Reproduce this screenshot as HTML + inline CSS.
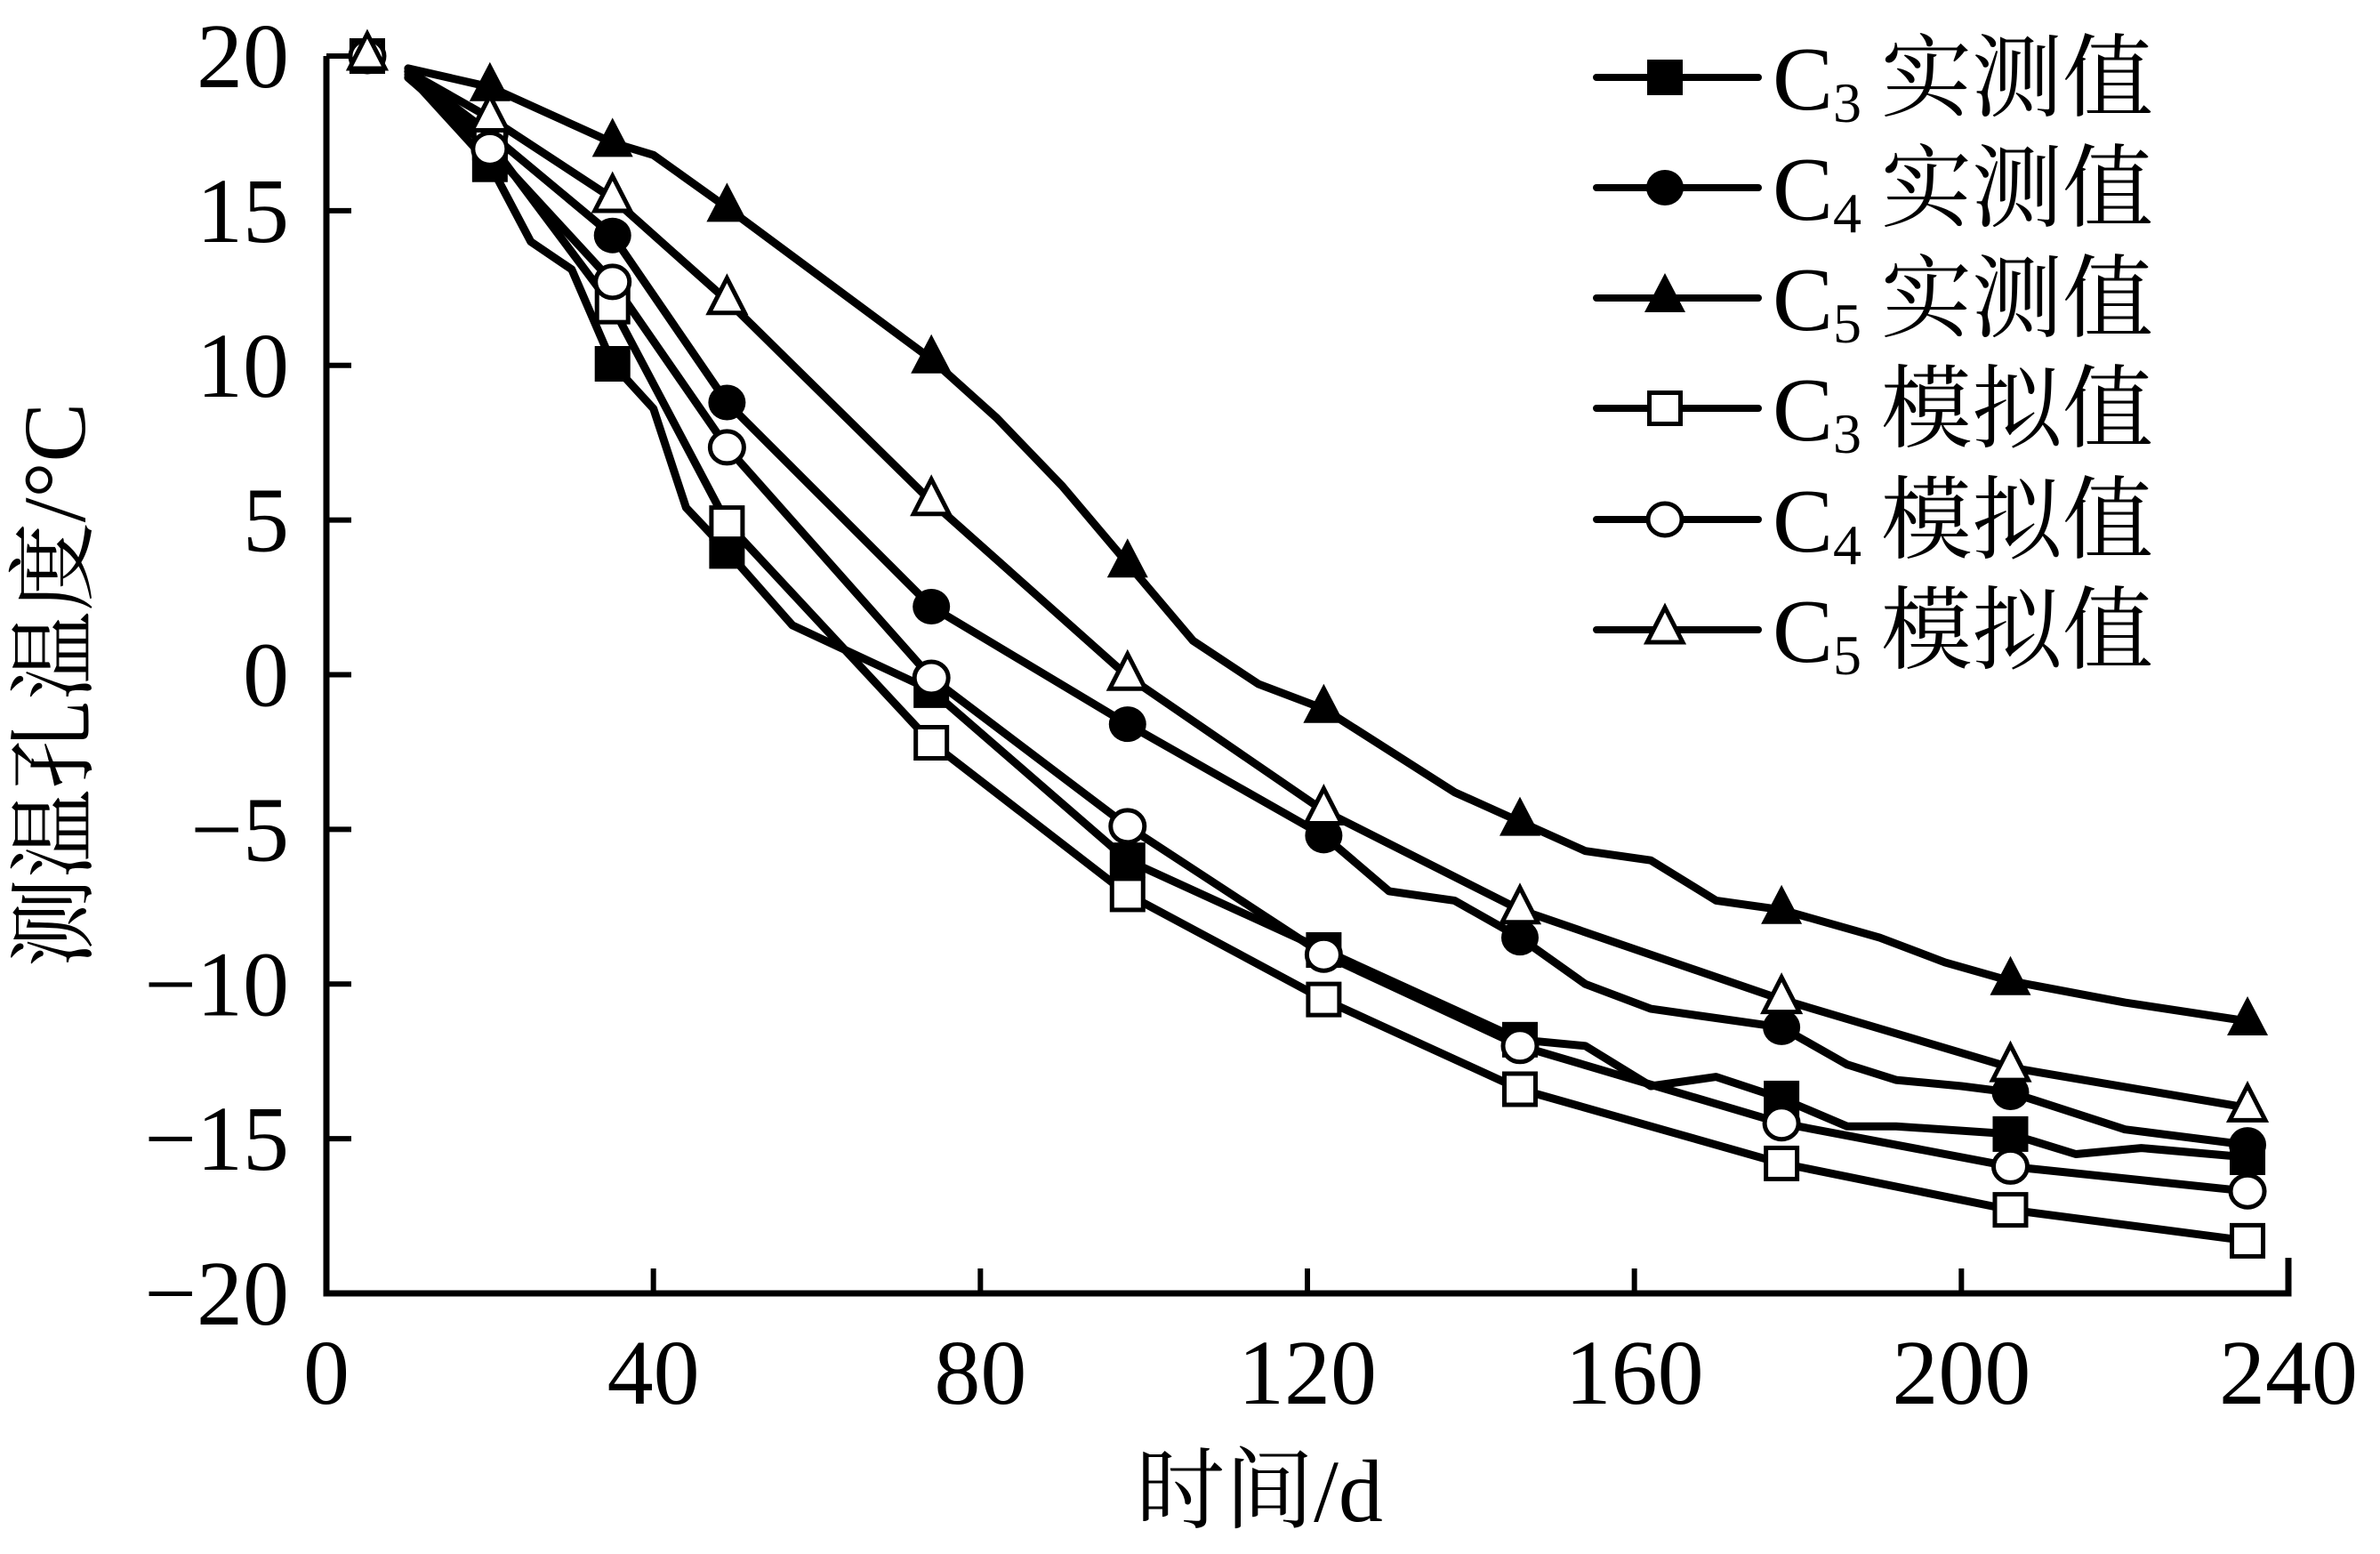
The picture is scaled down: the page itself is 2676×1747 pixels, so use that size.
<!DOCTYPE html>
<html><head><meta charset="utf-8"><style>
html,body{margin:0;padding:0;background:#fff;}
svg{display:block;}
text{font-family:"Liberation Serif","Noto Serif CJK SC",serif;fill:#000;}
</style></head><body>
<svg id="chart" width="2676" height="1747" viewBox="0 0 2676 1747" xmlns="http://www.w3.org/2000/svg">
<g id="axes"></g>
<g id="series"></g>
<g id="legend"></g>
<text x="1416" y="1710" font-size="100" text-anchor="middle">时间/d</text>
<text transform="translate(95,770) rotate(-90)" font-size="100" text-anchor="middle">测温孔温度/°C</text>
</svg>
<script>
const xTicks = [0,40,80,120,160,200,240];
const yTicks = [20,15,10,5,0,-5,-10,-15,-20];
const yTickLabels = ["20","15","10","5","0","\u22125","\u221210","\u221215","\u221220"];
const markerDays = [5,20,35,49,74,98,122,146,178,206,235];
const c3Meas = [20,16.5,10.05,4.0,-0.5,-6.0,-8.9,-11.8,-13.7,-14.85,-15.6];
const c4Meas = [20,17.5,14.2,8.8,2.2,-1.6,-5.2,-8.5,-11.4,-13.5,-15.2];
const c5Meas = [20,19.0,17.2,15.1,10.2,3.6,-1.1,-4.75,-7.6,-9.9,-11.2];
const c3Sim = [20,17.2,11.9,4.9,-2.2,-7.1,-10.5,-13.4,-15.8,-17.3,-18.3];
const c4Sim = [20,17.0,12.7,7.35,-0.1,-4.9,-9.05,-12.0,-14.5,-15.9,-16.7];
const c5Sim = [20,18.0,15.4,12.1,5.6,-0.05,-4.4,-7.6,-10.5,-12.7,-14.0];
const c3MeasLineDays = [10,20,25,30,35,40,44,49,57,74,98,122,146,154,162,170,178,186,192,206,214,222,235];
const c3MeasLineVals = [19.4,16.5,14.0,13.1,10.05,8.6,5.4,4.0,1.6,-0.5,-6.0,-8.9,-11.8,-12.0,-13.3,-13.0,-13.7,-14.6,-14.6,-14.85,-15.5,-15.3,-15.6];
const c4MeasLineDays = [10,20,35,49,74,98,122,130,138,146,154,162,178,186,192,200,206,220,235];
const c4MeasLineVals = [19.5,17.5,14.2,8.8,2.2,-1.6,-5.2,-7.0,-7.3,-8.5,-10.0,-10.8,-11.4,-12.6,-13.1,-13.3,-13.5,-14.7,-15.2];
const c5MeasLineDays = [10,20,35,40,49,74,82,90,98,106,114,122,138,146,154,162,170,178,190,198,206,220,235];
const c5MeasLineVals = [19.6,19.0,17.2,16.8,15.1,10.2,8.3,6.1,3.6,1.1,-0.3,-1.1,-3.8,-4.75,-5.7,-6.0,-7.3,-7.6,-8.5,-9.3,-9.9,-10.6,-11.2];
const c3SimLineDays = [10,20,35,49,74,98,122,146,178,206,235];
const c3SimLineVals = [19.3,17.2,11.9,4.9,-2.2,-7.1,-10.5,-13.4,-15.8,-17.3,-18.3];
const c4SimLineDays = [10,20,35,49,74,98,122,146,178,206,235];
const c4SimLineVals = [19.3,17.0,12.7,7.35,-0.1,-4.9,-9.05,-12.0,-14.5,-15.9,-16.7];
const c5SimLineDays = [10,20,35,49,74,98,122,146,178,206,235];
const c5SimLineVals = [19.5,18.0,15.4,12.1,5.6,-0.05,-4.4,-7.6,-10.5,-12.7,-14.0];

const NS="http://www.w3.org/2000/svg";
const X0=367,X1=2573,Y0=1454,Y1=63;
function xs(d){return X0+(d-0)/(240-0)*(X1-X0);}
function ys(v){return Y0-(v-(-20))/(20-(-20))*(Y0-Y1);}
function mk(tag,attrs,parent){const e=document.createElementNS(NS,tag);for(const k in attrs)e.setAttribute(k,attrs[k]);parent.appendChild(e);return e;}

const axes=document.getElementById('axes');
let e=mk('path',{d:`M${X0},${Y1} V${Y0} H${X1} V${Y0-40}`,fill:'none',stroke:'#000','stroke-width':7,'stroke-linejoin':'miter'},axes);


yTicks.forEach((v,i)=>{
  const t=mk('line',{x1:X0,y1:ys(v),x2:X0+28,y2:ys(v),stroke:'#000','stroke-width':6},axes);
  
  
  const lb=mk('text',{x:X0-42,y:ys(v)+35,'font-size':104,'text-anchor':'end'},axes);
  lb.textContent=yTickLabels[i];
  
  
});
xTicks.forEach((d)=>{
  const t=mk('line',{x1:xs(d),y1:Y0,x2:xs(d),y2:Y0-28,stroke:'#000','stroke-width':6},axes);
  
  
  const lb=mk('text',{x:xs(d),y:1578,'font-size':104,'text-anchor':'middle'},axes);
  lb.textContent=String(d);
  
  
});

function marker(type,cx,cy,parent){
  let m;
  const s=20;
  if(type==='sqf')m=mk('rect',{x:cx-s,y:cy-s,width:2*s,height:2*s,fill:'#000'},parent);
  else if(type==='sqo')m=mk('rect',{x:cx-s+2.5,y:cy-s+2.5,width:2*s-5,height:2*s-5,fill:'#fff',stroke:'#000','stroke-width':5},parent);
  else if(type==='cf')m=mk('ellipse',{cx:cx,cy:cy,rx:21,ry:20,fill:'#000'},parent);
  else if(type==='co')m=mk('ellipse',{cx:cx,cy:cy,rx:19,ry:18,fill:'#fff',stroke:'#000','stroke-width':5},parent);
  else if(type==='tf')m=mk('polygon',{points:`${cx},${cy-28} ${cx+23},${cy+16} ${cx-23},${cy+16}`,fill:'#000'},parent);
  else m=mk('polygon',{points:`${cx},${cy-25} ${cx+20},${cy+14} ${cx-20},${cy+14}`,fill:'#fff',stroke:'#000','stroke-width':5,'stroke-linejoin':'miter'},parent);
  return m;
}
const seriesG=document.getElementById('series');
const series=[
 {name:'c3-measured',ld:c3MeasLineDays,lv:c3MeasLineVals,mv:c3Meas,m:'sqf'},
 {name:'c4-measured',ld:c4MeasLineDays,lv:c4MeasLineVals,mv:c4Meas,m:'cf'},
 {name:'c5-measured',ld:c5MeasLineDays,lv:c5MeasLineVals,mv:c5Meas,m:'tf'},
 {name:'c3-simulated',ld:c3SimLineDays,lv:c3SimLineVals,mv:c3Sim,m:'sqo'},
 {name:'c4-simulated',ld:c4SimLineDays,lv:c4SimLineVals,mv:c4Sim,m:'co'},
 {name:'c5-simulated',ld:c5SimLineDays,lv:c5SimLineVals,mv:c5Sim,m:'to'}
];
series.forEach(s=>{
  const pts=s.ld.map((d,i)=>xs(d).toFixed(1)+','+ys(s.lv[i]).toFixed(1)).join(' ');
  const l=mk('polyline',{points:pts,fill:'none',stroke:'#000','stroke-width':9,'stroke-linejoin':'round','stroke-linecap':'round'},seriesG);
  
  
});
series.forEach(s=>{
  markerDays.forEach((d,i)=>{
    const m=marker(s.m,xs(d),ys(s.mv[i]),seriesG);
    
    
  });
});
const legendG=document.getElementById('legend');
const legendLabels=[['3','实测值'],['4','实测值'],['5','实测值'],['3','模拟值'],['4','模拟值'],['5','模拟值']];
const rowY=[87,211,335,459,584,708];
series.forEach((s,i)=>{
  const g=mk('g',{},legendG);
  
  
  mk('line',{x1:1795,y1:rowY[i],x2:1977,y2:rowY[i],stroke:'#000','stroke-width':8,'stroke-linecap':'round'},g);
  marker(s.m,1872,rowY[i],g);
  const t=mk('text',{x:1993,y:rowY[i]+36,'font-size':102},g);
  t.innerHTML='C<tspan font-size="64" dy="14">'+legendLabels[i][0]+'</tspan><tspan dy="-14" dx="22">'+legendLabels[i][1]+'</tspan>';
});
</script>
</body></html>
